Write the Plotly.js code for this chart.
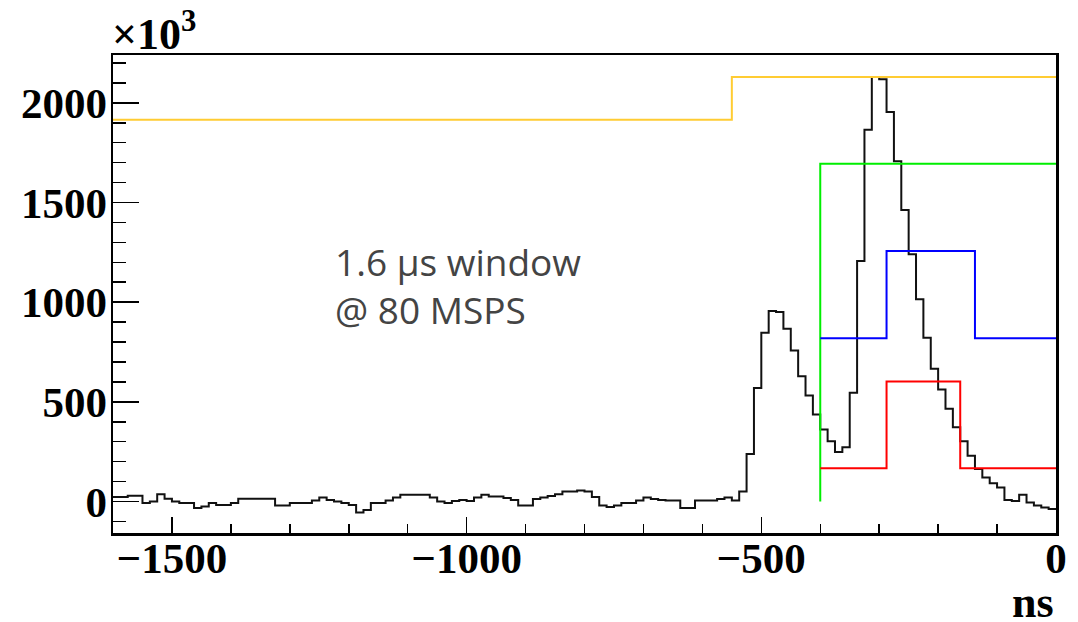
<!DOCTYPE html>
<html>
<head>
<meta charset="utf-8">
<script src="https://cdn.plot.ly/plotly-3.0.1.min.js"></script>
<style>
  html, body { margin: 0; padding: 0; background: #fff; }
  #chart { width: 1078px; height: 622px; }
</style>
</head>
<body>
<div id="chart"></div>
<script>
// Waveform histogram: 128 samples of 12.5 ns (1.6 us at 80 MSPS), counts in units of 10^3
const binStart = -1600;
const binWidth = 12.5;
const counts = [
  22, 22, 29, 29, -8, 0, 37, 14, 0, -8,
  -8, -33, -25, -8, -17, -17, -8, 14, 14, 14,
  14, 14, -20, -20, -8, -8, -8, 5, 20, 7,
  0, -8, -17, -55, -42, -8, -8, 5, 20, 34,
  34, 34, 34, 20, 0, -8, 3, 8, 3, 20,
  34, 25, 25, 17, 8, -20, -20, 12, 20, 28,
  37, 50, 50, 55, 50, 22, -20, -28, -20, -8,
  -8, 5, 20, 12, 8, 5, 5, -33, -33, 5,
  5, 5, 13, 20, 5, 50, 238, 570, 847, 956,
  951, 867, 758, 629, 532, 436, 361, 302, 248, 272,
  545, 1207, 1865, 2130, 2118, 1954, 1707, 1462, 1241, 1015,
  822, 666, 562, 465, 372, 302, 230, 163, 121, 92,
  70, 8, 3, 34, -5, -20, -30, -38
];

// Window / threshold overlays as step functions (edges in ns, levels in 10^3)
const yellowEdges = [-1600, -550, 0];
const yellowLevels = [1915, 2130];
const greenEdges = [-400, -400, 0];
const greenLevels = [0, 1695];
const blueEdges = [-400, -287.5, -137.5, 0];
const blueLevels = [819, 1257, 819];
const redEdges = [-400, -287.5, -162.5, 0];
const redLevels = [167, 602, 167];

// Axis tick labels
const xTickVals = [-1500, -1000, -500, 0];
const xTickText = ['\u22121500', '\u22121000', '\u2212500', '0'];
const yTickVals = [0, 500, 1000, 1500, 2000];
const yTickText = ['0', '500', '1000', '1500', '2000'];

function stepXY(edges, levels) {
  return { x: edges.slice(), y: levels.concat([levels[levels.length - 1]]) };
}

const histEdges = counts.map((_, i) => binStart + i * binWidth).concat([binStart + counts.length * binWidth]);
const hist = stepXY(histEdges, counts);

function stepTrace(xy, color, width) {
  return {
    type: 'scatter', mode: 'lines', x: xy.x, y: xy.y,
    line: { shape: 'hv', color: color, width: width },
    hoverinfo: 'skip', showlegend: false, cliponaxis: true
  };
}

const traces = [
  stepTrace(hist, '#111111', 2),
  stepTrace(stepXY(yellowEdges, yellowLevels), '#ffcc33', 2),
  stepTrace(stepXY(greenEdges, greenLevels), '#00ee00', 2),
  stepTrace(stepXY(blueEdges, blueLevels), '#0000ff', 2),
  stepTrace(stepXY(redEdges, redLevels), '#ff0000', 2)
];

const tickFont = { family: 'Liberation Serif', size: 43, color: '#000', weight: 'bold' };

const layout = {
  width: 1078, height: 622,
  margin: { l: 113, r: 22, t: 55, b: 89 },
  paper_bgcolor: '#fff', plot_bgcolor: '#fff',
  showlegend: false,
  xaxis: {
    range: [-1600, 0], showgrid: false, zeroline: false,
    showline: true, linecolor: '#000', linewidth: 2.5, mirror: true,
    ticks: 'inside', ticklen: 16, tickwidth: 1.5, tickcolor: '#000',
    tickmode: 'array', tickvals: xTickVals, ticktext: xTickText,
    ticklabelstandoff: -14,
    minor: { dtick: 100, tick0: 0, ticks: 'inside', ticklen: 9, tickwidth: 1.5, tickcolor: '#000', showgrid: false },
    tickfont: tickFont
  },
  yaxis: {
    range: [-158, 2240], showgrid: false, zeroline: false,
    showline: true, linecolor: '#000', linewidth: 2.5, mirror: true,
    ticks: 'inside', ticklen: 26, tickwidth: 1.5, tickcolor: '#000',
    tickmode: 'array', tickvals: yTickVals, ticktext: yTickText,
    ticklabelstandoff: -5,
    minor: { dtick: 100, tick0: 0, ticks: 'inside', ticklen: 13, tickwidth: 1.5, tickcolor: '#000', showgrid: false },
    tickfont: tickFont
  },
  annotations: [
    {
      xref: 'paper', yref: 'paper', x: -0.003, y: 1.0, xanchor: 'left', yanchor: 'bottom',
      yshift: -6,
      text: '\u00d710<sup>3</sup>', showarrow: false,
      font: { family: 'Liberation Serif', size: 44, color: '#000', weight: 'bold' }
    },
    {
      xref: 'paper', yref: 'paper', x: 1.0, y: -0.09, xanchor: 'right', yanchor: 'top',
      text: 'ns', showarrow: false,
      font: { family: 'Liberation Serif', size: 44, color: '#000', weight: 'bold' }
    },
    {
      xref: 'paper', yref: 'paper', x: 0.233, y: 0.518, xanchor: 'left', yanchor: 'middle',
      align: 'left', text: '1.6 \u00b5s window<br>@ 80 MSPS', showarrow: false,
      font: { family: 'Open Sans', size: 37, color: '#444' }
    }
  ]
};

Plotly.newPlot('chart', traces, layout, { displayModeBar: false, staticPlot: true });
</script>
</body>
</html>
